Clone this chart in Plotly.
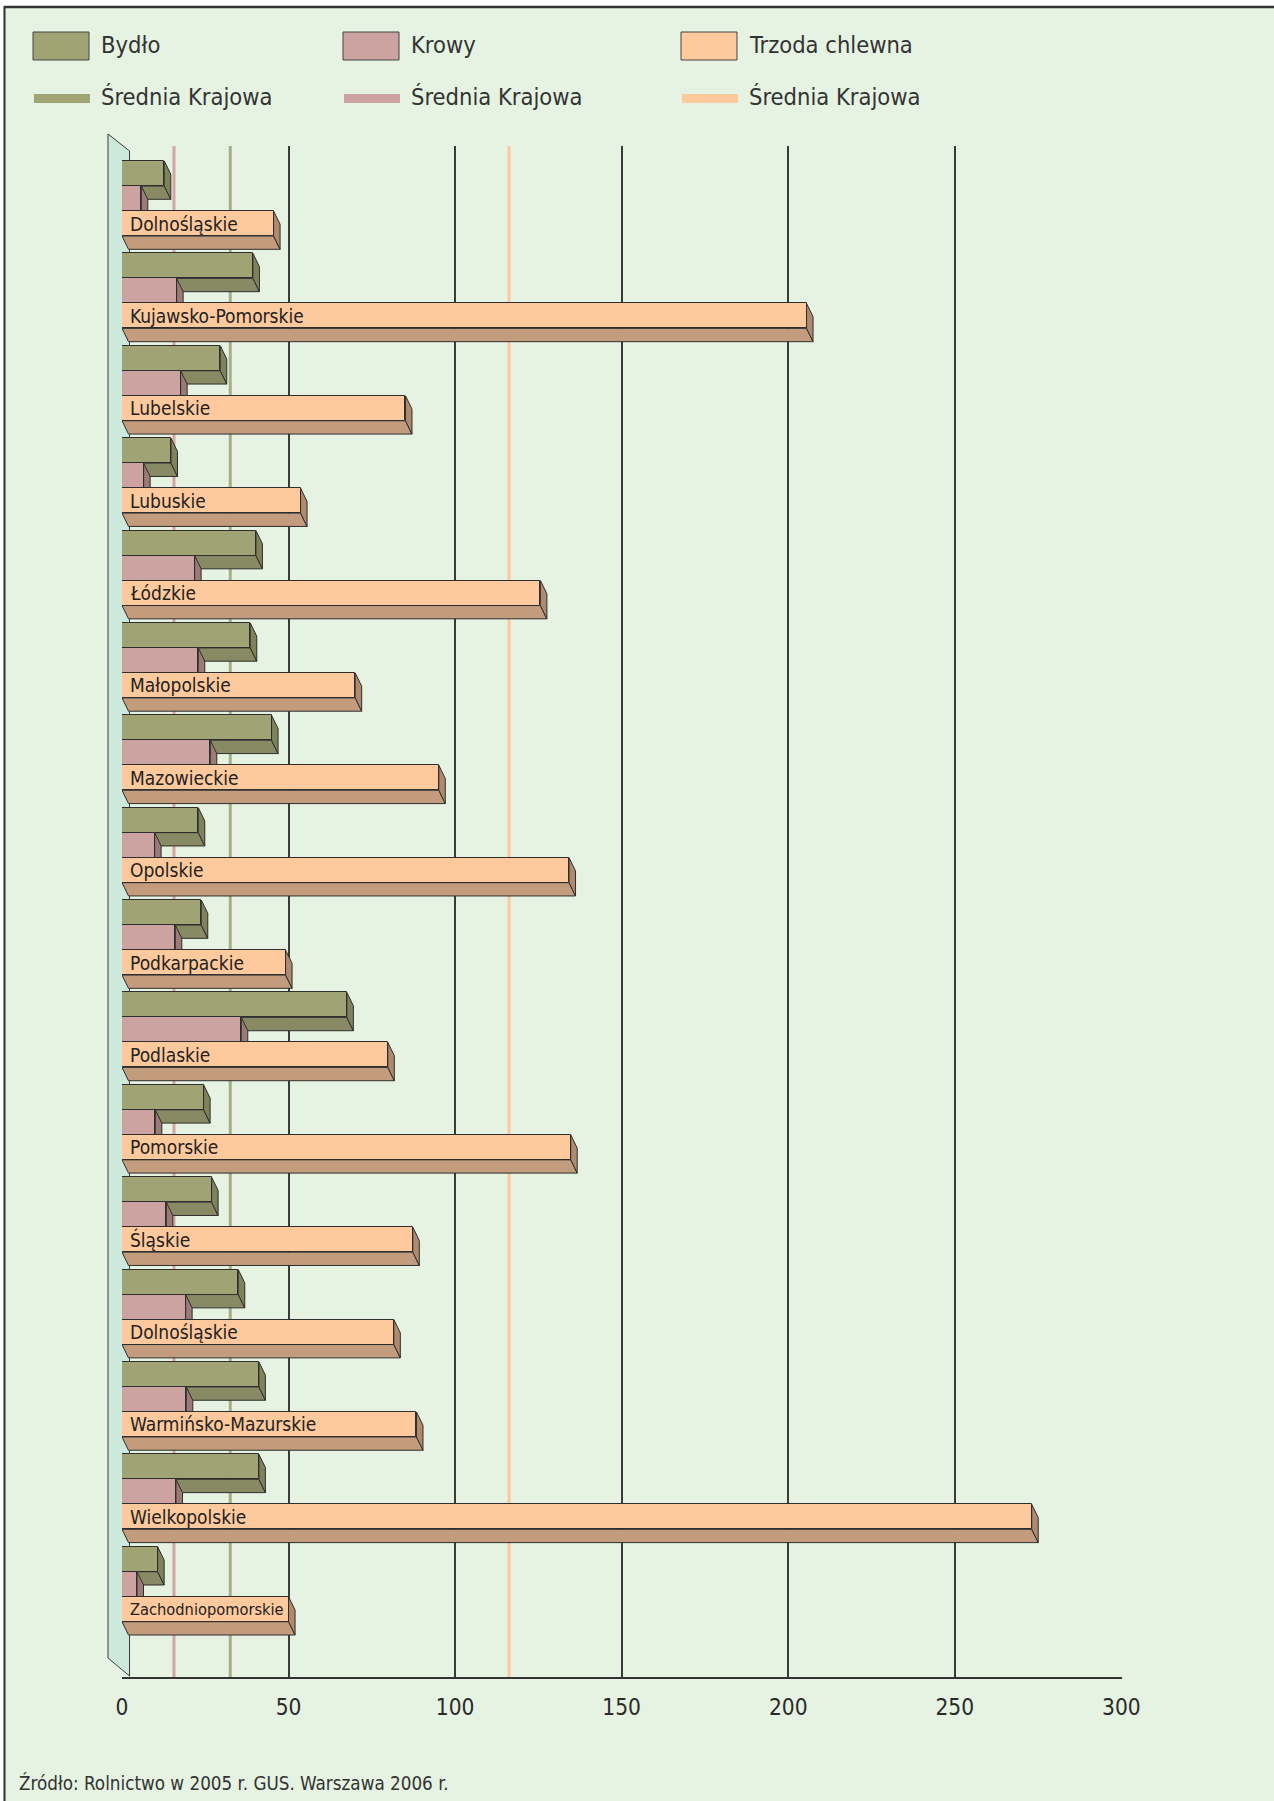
import plotly.graph_objects as go

# ---------------- data ----------------
regions = ["Dolnośląskie", "Kujawsko-Pomorskie", "Lubelskie", "Lubuskie", "Łódzkie",
           "Małopolskie", "Mazowieckie", "Opolskie", "Podkarpackie", "Podlaskie",
           "Pomorskie", "Śląskie", "Dolnośląskie", "Warmińsko-Mazurskie",
           "Wielkopolskie", "Zachodniopomorskie"]
bydlo = [12.7, 39.3, 29.5, 14.7, 40.2, 38.5, 44.9, 22.9, 23.8, 67.5, 24.5, 26.9, 34.9, 41.1, 41.1, 10.7]
krowy = [5.8, 16.4, 17.6, 6.5, 21.8, 22.9, 26.5, 9.8, 16.0, 35.8, 10.0, 13.3, 19.1, 19.3, 16.2, 4.5]
trzoda = [45.5, 205.5, 85.1, 53.6, 125.6, 70.0, 95.1, 134.2, 49.1, 79.8, 134.7, 87.3, 81.6, 88.4, 273.1, 50.0]
avg_bydlo = 32.5
avg_krowy = 15.6
avg_trzoda = 116.2
x_ticks = [0, 50, 100, 150, 200, 250, 300]
series_names = ["Bydło", "Krowy", "Trzoda chlewna"]
avg_name = "Średnia Krajowa"
source_text = "Źródło: Rolnictwo w 2005 r. GUS. Warszawa 2006 r."

# ---------------- styles ----------------
FONT = "DejaVu Sans Condensed, Liberation Sans Narrow, Arial Narrow, sans-serif"
BG = "#e6f2e2"
EDGE = "#2e2e2e"
front_col = ["#a0a474", "#cca3a1", "#fec99c"]
bottom_col = ["#878a62", "#a88584", "#c29c7c"]
end_col = ["#7f8359", "#9c7a78", "#b08a6e"]
avg_col = ["#a9ad85", "#d3a5a5", "#fdc89b"]

W, H = 1274, 1801
PL, PR, PT, PB = 122, 1122, 146, 1677
XR = [0, 300.2]
UNIT = 92.38            # px per group
Y0 = 161                # px of first group's top
YR = [(PB - Y0) / UNIT, (PT - Y0) / UNIT]
h = 25 / UNIT
PXU = (PR - PL) / (XR[1] - XR[0])   # px per value unit
dx = 6.5 / PXU
dy = 13.3 / UNIT
LABEL_SIZE = 19


def pxx(x):
    return (x - PL) / (PR - PL)


def pxy(y):
    return (PB - y) / (PB - PT)


fig = go.Figure()

# national averages (behind bars)
for a, c in zip([avg_bydlo, avg_krowy, avg_trzoda], avg_col):
    fig.add_trace(go.Scatter(x=[a, a], y=YR, mode="lines", line=dict(color=c, width=3),
                             hoverinfo="skip", showlegend=False))

all_series = [bydlo, krowy, trzoda]

# 3-D depth faces (base subplot)
for i, vals in enumerate(all_series):
    bx, by, ex, ey = [], [], [], []
    for k, v in enumerate(vals):
        yt = k + i * h
        yb = yt + h
        bx += [0, v, v + dx, dx, 0, None]
        by += [yb, yb, yb + dy, yb + dy, yb, None]
        ex += [v, v + dx, v + dx, v, v, None]
        ey += [yt, yt + dy, yb + dy, yb, yt, None]
    fig.add_trace(go.Scatter(x=bx, y=by, mode="lines", fill="toself", fillcolor=bottom_col[i],
                             line=dict(color=EDGE, width=1), hoverinfo="skip", showlegend=False))
    fig.add_trace(go.Scatter(x=ex, y=ey, mode="lines", fill="toself", fillcolor=end_col[i],
                             line=dict(color=EDGE, width=1), hoverinfo="skip", showlegend=False))

# front faces (overlay subplot, drawn above the depth faces)
for i, vals in enumerate(all_series):
    fig.add_trace(go.Bar(
        x=vals, y=[k + i * h + h / 2 for k in range(len(vals))], base=0,
        orientation="h", width=h, name=series_names[i],
        marker=dict(color=front_col[i], line=dict(color=EDGE, width=1)),
        xaxis="x2", yaxis="y2", showlegend=False))

# region labels on the orange bars (shrunk when the bar is too short)
annotations = []
for k, r in enumerate(regions):
    fit = (trzoda[k] * PXU - 14) / (0.52 * len(r))
    size = min(LABEL_SIZE, fit)
    annotations.append(dict(x=0, y=k + 2.5 * h, xref="x", yref="y", text=r, showarrow=False,
                            xanchor="left", yanchor="middle", xshift=6,
                            font=dict(family=FONT, size=size, color="#222")))

shapes = []
# page frame: white strips and dark border lines
shapes.append(dict(type="rect", xref="paper", yref="paper", x0=pxx(-5), x1=pxx(W + 5),
                   y0=pxy(6), y1=pxy(-5), fillcolor="white", line=dict(width=0), layer="above"))
shapes.append(dict(type="rect", xref="paper", yref="paper", x0=pxx(-5), x1=pxx(3.5),
                   y0=pxy(H + 5), y1=pxy(6), fillcolor="white", line=dict(width=0), layer="above"))
shapes.append(dict(type="line", xref="paper", yref="paper", x0=pxx(4), x1=pxx(W + 5),
                   y0=pxy(7), y1=pxy(7), line=dict(color="#333", width=2.5), layer="above"))
shapes.append(dict(type="line", xref="paper", yref="paper", x0=pxx(4.5), x1=pxx(4.5),
                   y0=pxy(6), y1=pxy(H + 5), line=dict(color="#333", width=2), layer="above"))

# left wall of the 3-D chart
wall = [(108, 134), (129.5, 151), (129.5, 1676), (108, 1658)]
path = "M " + " L ".join(f"{pxx(a):.5f},{pxy(b):.5f}" for a, b in wall) + " Z"
shapes.append(dict(type="path", xref="paper", yref="paper", path=path, fillcolor="#cde9dc",
                   line=dict(color="#3a3a3a", width=1), layer="between"))

# legend
legend_x = [33, 343, 681]
for j in range(3):
    x0 = legend_x[j]
    shapes.append(dict(type="rect", xref="paper", yref="paper", x0=pxx(x0), x1=pxx(x0 + 56),
                       y0=pxy(60), y1=pxy(32), fillcolor=front_col[j],
                       line=dict(color="#444", width=1), layer="above"))
    shapes.append(dict(type="rect", xref="paper", yref="paper", x0=pxx(x0 + 1), x1=pxx(x0 + 57),
                       y0=pxy(103), y1=pxy(94), fillcolor=front_col[j],
                       line=dict(width=0), layer="above"))
    annotations.append(dict(x=pxx(x0 + 66), y=pxy(45), xref="paper", yref="paper",
                            text=series_names[j], showarrow=False, xanchor="left", yanchor="middle",
                            font=dict(family=FONT, size=23.5, color="#333")))
    annotations.append(dict(x=pxx(x0 + 66), y=pxy(97), xref="paper", yref="paper",
                            text=avg_name, showarrow=False, xanchor="left", yanchor="middle",
                            font=dict(family=FONT, size=23.5, color="#333")))

annotations.append(dict(x=pxx(17), y=pxy(1783), xref="paper", yref="paper", text=source_text,
                        showarrow=False, xanchor="left", yanchor="middle",
                        font=dict(family=FONT, size=18.7, color="#333")))

fig.update_layout(
    width=W, height=H,
    margin=dict(l=PL, r=W - PR, t=PT, b=H - PB, pad=0),
    paper_bgcolor=BG, plot_bgcolor=BG,
    barmode="overlay", bargap=0,
    showlegend=False,
    shapes=shapes, annotations=annotations,
    xaxis=dict(range=XR, tickvals=x_ticks, ticktext=[str(t) for t in x_ticks],
               showgrid=True, gridcolor="#3a3a3a", gridwidth=1.5, zeroline=False,
               showline=True, linecolor="#333", linewidth=2,
               ticks="outside", ticklen=9, tickcolor="rgba(0,0,0,0)",
               tickfont=dict(family=FONT, size=22.5, color="#2a2a2a"), fixedrange=True),
    yaxis=dict(range=YR, visible=False, showgrid=False, zeroline=False, fixedrange=True),
    xaxis2=dict(range=XR, overlaying="x", visible=False, showgrid=False, zeroline=False),
    yaxis2=dict(range=YR, overlaying="y", visible=False, showgrid=False, zeroline=False),
)

fig.write_html("out.html", config={"displayModeBar": False},
               post_script="document.body.style.margin='0px';document.body.style.overflow='hidden';")
